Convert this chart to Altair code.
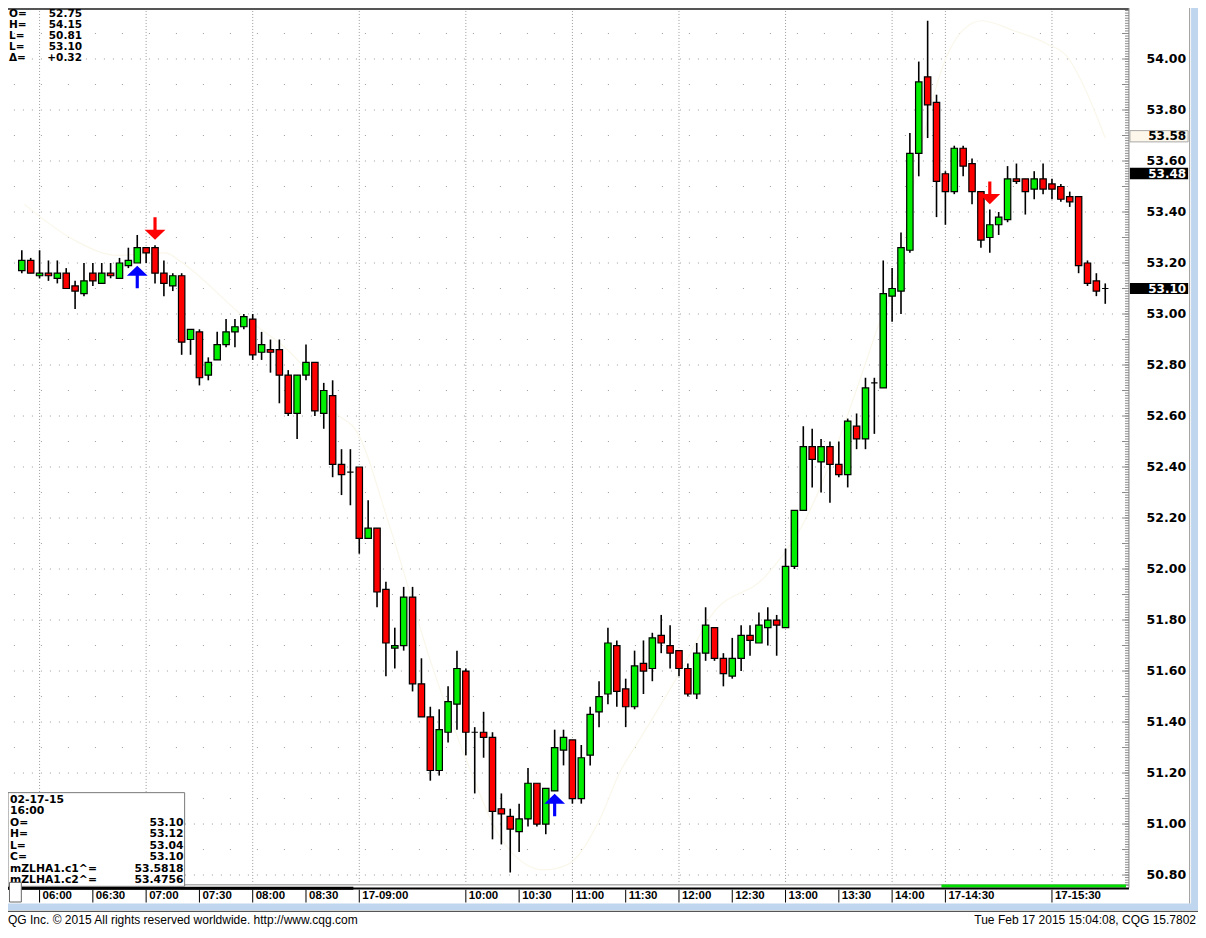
import altair as alt
import pandas as pd
import numpy as np

# ---------------- data (5-minute bars, 05:50 .. 16:00) ----------------
opens = [
    53.17, 53.21, 53.15, 53.16, 53.14, 53.16, 53.11, 53.08, 53.16, 53.12,
    53.16, 53.14, 53.19, 53.20, 53.26, 53.26, 53.16, 53.11, 53.15, 52.90,
    52.93, 52.76, 52.82, 52.88, 52.93, 52.95, 52.98, 52.85, 52.86, 52.86,
    52.76, 52.61, 52.76, 52.81, 52.61, 52.68, 52.41, 52.38, 52.40, 52.12,
    52.16, 51.92, 51.69, 51.70, 51.89, 51.55, 51.42, 51.21, 51.36, 51.47,
    51.60, 51.36, 51.36, 51.34, 51.06, 51.03, 50.97, 51.02, 51.16, 51.00,
    51.13, 51.29, 51.33, 51.10, 51.27, 51.44, 51.51, 51.70, 51.53, 51.46,
    51.63, 51.61, 51.74, 51.70, 51.68, 51.61, 51.51, 51.67, 51.77, 51.65,
    51.58, 51.65, 51.74, 51.71, 51.77, 51.80, 51.77, 52.01, 52.23, 52.48,
    52.42, 52.48, 52.41, 52.37, 52.56, 52.51, 52.73, 52.71, 53.07, 53.09,
    53.25, 53.63, 53.93, 53.83, 53.55, 53.48, 53.65, 53.59, 53.48, 53.30,
    53.35, 53.37, 53.53, 53.53, 53.49, 53.53, 53.51, 53.50, 53.46, 53.46,
    53.20, 53.13, 53.10]
highs = [
    53.25, 53.22, 53.25, 53.21, 53.21, 53.18, 53.13, 53.20, 53.20, 53.20,
    53.20, 53.22, 53.26, 53.31, 53.26, 53.27, 53.21, 53.16, 53.16, 52.94,
    52.94, 52.83, 52.93, 52.98, 52.98, 53.00, 53.00, 52.93, 52.90, 52.90,
    52.78, 52.76, 52.88, 52.81, 52.73, 52.74, 52.47, 52.47, 52.40, 52.27,
    52.16, 51.95, 51.77, 51.93, 51.93, 51.65, 51.46, 51.45, 51.54, 51.68,
    51.61, 51.38, 51.44, 51.36, 51.12, 51.06, 51.08, 51.22, 51.16, 51.14,
    51.37, 51.37, 51.33, 51.31, 51.46, 51.56, 51.77, 51.72, 51.57, 51.68,
    51.72, 51.75, 51.82, 51.78, 51.68, 51.63, 51.71, 51.85, 51.77, 51.67,
    51.73, 51.78, 51.78, 51.83, 51.85, 51.82, 52.08, 52.23, 52.56, 52.55,
    52.51, 52.50, 52.50, 52.59, 52.61, 52.75, 52.75, 53.21, 53.18, 53.32,
    53.71, 53.99, 54.15, 53.86, 53.56, 53.66, 53.66, 53.61, 53.48, 53.41,
    53.40, 53.58, 53.59, 53.53, 53.56, 53.59, 53.53, 53.51, 53.48, 53.46,
    53.21, 53.16, 53.12]
lows = [
    53.16, 53.16, 53.14, 53.13, 53.12, 53.10, 53.02, 53.07, 53.11, 53.12,
    53.14, 53.14, 53.18, 53.20, 53.20, 53.12, 53.07, 53.09, 52.84, 52.84,
    52.72, 52.74, 52.82, 52.87, 52.87, 52.94, 52.82, 52.82, 52.77, 52.65,
    52.60, 52.51, 52.74, 52.60, 52.55, 52.36, 52.29, 52.25, 52.06, 52.12,
    51.85, 51.58, 51.61, 51.68, 51.52, 51.42, 51.17, 51.19, 51.32, 51.37,
    51.27, 51.12, 51.26, 50.94, 50.92, 50.81, 50.89, 50.99, 50.99, 50.96,
    51.13, 51.23, 51.08, 51.08, 51.23, 51.38, 51.47, 51.46, 51.38, 51.45,
    51.51, 51.56, 51.67, 51.61, 51.58, 51.50, 51.49, 51.64, 51.64, 51.54,
    51.57, 51.60, 51.66, 51.71, 51.70, 51.66, 51.77, 52.00, 52.23, 52.32,
    52.30, 52.26, 52.36, 52.32, 52.47, 52.47, 52.53, 52.71, 52.97, 53.00,
    53.24, 53.54, 53.69, 53.38, 53.35, 53.47, 53.54, 53.43, 53.26, 53.24,
    53.31, 53.36, 53.51, 53.39, 53.45, 53.47, 53.45, 53.44, 53.42, 53.16,
    53.11, 53.07, 53.04]
closes = [
    53.21, 53.16, 53.16, 53.15, 53.16, 53.10, 53.09, 53.13, 53.13, 53.16,
    53.15, 53.20, 53.21, 53.26, 53.24, 53.16, 53.12, 53.15, 52.89, 52.94,
    52.75, 52.81, 52.88, 52.93, 52.95, 52.99, 52.84, 52.88, 52.85, 52.76,
    52.61, 52.76, 52.81, 52.62, 52.70, 52.41, 52.37, 52.38, 52.12, 52.16,
    51.91, 51.71, 51.70, 51.89, 51.55, 51.42, 51.21, 51.37, 51.48, 51.61,
    51.36, 51.36, 51.34, 51.05, 51.04, 50.98, 51.02, 51.16, 51.00, 51.14,
    51.30, 51.34, 51.10, 51.26, 51.43, 51.50, 51.71, 51.52, 51.46, 51.62,
    51.60, 51.73, 51.71, 51.67, 51.61, 51.51, 51.67, 51.78, 51.65, 51.59,
    51.65, 51.74, 51.72, 51.78, 51.80, 51.78, 52.01, 52.23, 52.48, 52.43,
    52.48, 52.41, 52.37, 52.58, 52.51, 52.71, 52.73, 53.08, 53.10, 53.26,
    53.63, 53.91, 53.82, 53.52, 53.48, 53.65, 53.58, 53.48, 53.29, 53.35,
    53.38, 53.53, 53.52, 53.48, 53.53, 53.49, 53.49, 53.45, 53.44, 53.19,
    53.12, 53.09, 53.10]
assert len(opens) == len(highs) == len(lows) == len(closes) == 123

time_label_bars = [2, 8, 14, 20, 26, 32, 38, 50, 56, 62, 68, 74, 80, 86, 92, 98, 104, 116]
time_labels = ["06:00", "06:30", "07:00", "07:30", "08:00", "08:30", "17-09:00", "10:00",
               "10:30", "11:00", "11:30", "12:00", "12:30", "13:00", "13:30", "14:00",
               "17-14:30", "17-15:30"]
grid_bars = [2, 14, 26, 38, 50, 62, 74, 86, 98, 104, 116]
price_labels = [50.8, 51.0, 51.2, 51.4, 51.6, 51.8, 52.0, 52.2, 52.4, 52.6, 52.8,
                53.0, 53.2, 53.4, 53.6, 53.8, 54.0]
minor_grid = [50.9, 51.1, 51.3, 51.5, 51.7, 51.9, 52.1, 52.3, 52.5, 52.7, 52.9,
              53.1, 53.3, 53.5, 53.7, 53.9, 54.1]

curve_bars = [0.3, 5.9, 10.7, 16.2, 17.7, 24.3, 31.8, 35.4, 37.7, 41.4, 46.2, 50.3, 54.0,
              58.8, 61.4, 65.1, 67.3, 69.9, 74.2, 77.7, 83.7, 87.7, 96.2, 99.2, 99.9,
              103.7, 107.0, 108.1, 111.8, 115.4, 117.7, 119.9, 122.0]
curve_prices = [53.43, 53.29, 53.23, 53.24, 53.21, 53.01, 52.79, 52.61, 52.54, 52.17, 51.62,
                51.23, 50.94, 50.82, 50.84, 51.02, 51.20, 51.35, 51.60, 51.82, 51.97, 52.16,
                52.93, 53.25, 53.40, 53.97, 54.14, 54.15, 54.11, 54.06, 54.01, 53.87, 53.69]

arrow_bars = [13, 15, 60, 109]
arrow_tips = [53.19, 53.29, 51.12, 53.43]
arrow_tails = [53.10, 53.38, 51.03, 53.52]
arrow_dirs = ["up", "down", "up", "down"]

top_info_labels = ["O=", "H=", "L=", "L=", "\u0394="]
top_info_values = ["52.75", "54.15", "50.81", "53.10", "+0.32"]
box_labels = ["02-17-15", "16:00", "O=", "H=", "L=", "C=", "mZLHA1.c1^=", "mZLHA1.c2^="]
box_values = ["", "", "53.10", "53.12", "53.04", "53.10", "53.5818", "53.4756"]
study_labels = ["53.58", "53.48"]

# ---------------- layout helpers (reference pixel -> chart pixel) ----------------
W, H = 1190, 920
SX = W / 1206.0
SY = H / 938.0


def px(X):
    return round(X * SX, 2)


def py(Y):
    return round(Y * SY, 2)


XS = alt.Scale(domain=[0, 122], range=[px(14), px(1112)], nice=False, zero=False)
YS = alt.Scale(domain=[50.8, 54.0], range=[py(884), py(52)], nice=False, zero=False)
ONE = pd.DataFrame({"k": [0]})

FONT_INFO = "DejaVu Sans"
FONT_AX = "Liberation Sans"


def hline(X1, X2, Y, color, w=1.0, dash=None):
    kw = dict(color=color, strokeWidth=w)
    if dash:
        kw["strokeDash"] = dash
    return alt.Chart(ONE).mark_rule(**kw).encode(
        x=alt.value(px(X1)), x2=alt.value(px(X2)), y=alt.value(py(Y)))


def vline(X, Y1, Y2, color, w=1.0):
    return alt.Chart(ONE).mark_rule(color=color, strokeWidth=w).encode(
        x=alt.value(px(X)), y=alt.value(py(Y1)), y2=alt.value(py(Y2)))


def box(X1, X2, Y1, Y2, fill, stroke=None, sw=1.0):
    kw = dict(fill=fill)
    if stroke:
        kw["stroke"] = stroke
        kw["strokeWidth"] = sw
    return alt.Chart(ONE).mark_rect(**kw).encode(
        x=alt.value(px(X1)), x2=alt.value(px(X2)), y=alt.value(py(Y1)), y2=alt.value(py(Y2)))


def label(s, X, Y, align="left", size=11, weight="bold", font=FONT_INFO, color="black"):
    return alt.Chart(ONE).mark_text(
        text=s, align=align, baseline="middle", fontSize=size, fontWeight=weight,
        font=font, color=color).encode(x=alt.value(px(X)), y=alt.value(py(Y)))


layers = []

# ---------------- grid ----------------
layers.append(alt.Chart(pd.DataFrame({"p": price_labels})).mark_rule(
    color="#9c9c9c", strokeWidth=1, strokeDash=[1, 8]).encode(
    y=alt.Y("p:Q", scale=YS, axis=None), x=alt.value(px(6)), x2=alt.value(px(1128))))
layers.append(alt.Chart(pd.DataFrame({"p": minor_grid})).mark_rule(
    color="#9c9c9c", strokeWidth=1, strokeDash=[1, 26]).encode(
    y=alt.Y("p:Q", scale=YS, axis=None), x=alt.value(px(6)), x2=alt.value(px(1128))))
layers.append(alt.Chart(pd.DataFrame({"b": grid_bars})).mark_rule(
    color="#9c9c9c", strokeWidth=1, strokeDash=[1, 2]).encode(
    x=alt.X("b:Q", scale=XS, axis=None), y=alt.value(py(3)), y2=alt.value(py(893))))

# faint study curve
layers.append(alt.Chart(pd.DataFrame({"b": curve_bars, "p": curve_prices})).mark_line(
    color="#faf7ea", strokeWidth=1.2, interpolate="monotone").encode(
    x=alt.X("b:Q", scale=XS, axis=None), y=alt.Y("p:Q", scale=YS, axis=None)))

# ---------------- candles ----------------
df = pd.DataFrame({"i": np.arange(len(opens)), "o": opens, "h": highs, "l": lows, "c": closes})
df["dir"] = np.where(df["c"] >= df["o"], "up", "down")
df["x1"] = df["i"] - 0.36
df["x2"] = df["i"] + 0.36

layers.append(alt.Chart(df).mark_rule(color="black", strokeWidth=1.6).encode(
    x=alt.X("i:Q", scale=XS, axis=None),
    y=alt.Y("l:Q", scale=YS, axis=None), y2="h:Q"))
layers.append(alt.Chart(df).mark_rect(stroke="black", strokeWidth=1.2).encode(
    x=alt.X("x1:Q", scale=XS, axis=None), x2="x2:Q",
    y=alt.Y("o:Q", scale=YS, axis=None), y2="c:Q",
    fill=alt.Fill("dir:N", scale=alt.Scale(domain=["up", "down"], range=["#00ee00", "#ff0000"]),
                  legend=None)))

# ---------------- arrows ----------------
adf = pd.DataFrame({"b": arrow_bars, "tip": arrow_tips, "tail": arrow_tails, "dir": arrow_dirs})
adf["mid"] = (adf["tip"] + adf["tail"]) / 2
UP = "M0,-1 L0.92,-0.11 L0.14,-0.11 L0.14,1 L-0.14,1 L-0.14,-0.11 L-0.92,-0.11 Z"
DOWN = "M0,1 L0.92,0.11 L0.14,0.11 L0.14,-1 L-0.14,-1 L-0.14,0.11 L-0.92,0.11 Z"
ar = (2 * 11.5 * SY) ** 2
layers.append(alt.Chart(adf[adf["dir"] == "up"]).mark_point(
    shape=UP, filled=True, size=ar, color="#0000ff", opacity=1, strokeWidth=0).encode(
    x=alt.X("b:Q", scale=XS, axis=None), y=alt.Y("mid:Q", scale=YS, axis=None)))
layers.append(alt.Chart(adf[adf["dir"] == "down"]).mark_point(
    shape=DOWN, filled=True, size=ar, color="#ff0000", opacity=1, strokeWidth=0).encode(
    x=alt.X("b:Q", scale=XS, axis=None), y=alt.Y("mid:Q", scale=YS, axis=None)))

# ---------------- frame ----------------
layers.append(hline(0, 1136, 1, "#555555", 2))
layers.append(vline(1136, 0, 897, "#808080", 1))
layers.append(hline(0, 1136, 894, "#8a8a8a", 1))

# right axis ticks
tick_minor = pd.DataFrame({"p": np.round(np.arange(50.76, 54.195, 0.01), 2)})
layers.append(alt.Chart(tick_minor).mark_rule(color="#8a8a8a", strokeWidth=1).encode(
    y=alt.Y("p:Q", scale=YS, axis=None), x=alt.value(px(1132)), x2=alt.value(px(1136))))
layers.append(alt.Chart(pd.DataFrame({"p": price_labels + minor_grid})).mark_rule(
    color="#8a8a8a", strokeWidth=1).encode(
    y=alt.Y("p:Q", scale=YS, axis=None), x=alt.value(px(1129)), x2=alt.value(px(1136))))

# right labels
layers.append(alt.Chart(pd.DataFrame({"p": price_labels,
                                      "t": [f"{v:.2f}" for v in price_labels]})).mark_text(
    align="right", baseline="middle", font=FONT_INFO, fontWeight="bold", fontSize=12.5,
    color="black").encode(
    y=alt.Y("p:Q", scale=YS, axis=None), x=alt.value(px(1194)), text="t:N"))

# study value boxes
layers.append(box(1137, 1196, 125, 136.5, "#fdf6ea", "#a8a8a8", 1))
layers.append(label(study_labels[0], 1194, 131, align="right", size=12))
layers.append(box(1137, 1196, 163, 174.5, "black"))
layers.append(label(study_labels[1], 1194, 169, align="right", size=12, color="white"))

# last price box
last = pd.DataFrame({"p": [closes[-1]], "t": [f"{closes[-1]:.2f}"]})
last["p1"] = last["p"] + 0.022
last["p2"] = last["p"] - 0.022
layers.append(alt.Chart(last).mark_rect(fill="black").encode(
    y=alt.Y("p1:Q", scale=YS, axis=None), y2="p2:Q",
    x=alt.value(px(1137)), x2=alt.value(px(1196))))
layers.append(alt.Chart(last).mark_text(
    align="right", baseline="middle", font=FONT_INFO, fontWeight="bold", fontSize=12,
    color="white").encode(
    y=alt.Y("p:Q", scale=YS, axis=None), x=alt.value(px(1194)), text="t:N"))

# ---------------- bottom time axis ----------------
layers.append(hline(946, 1133, 895.3, "#00e000", 3))
layers.append(hline(0, 1136, 897.8, "black", 2))
layers.append(hline(0, 350, 897.5, "black", 3))
tdf = pd.DataFrame({"b": time_label_bars, "t": time_labels})
layers.append(alt.Chart(tdf).mark_rule(color="black", strokeWidth=1).encode(
    x=alt.X("b:Q", scale=XS, axis=None), y=alt.value(py(899)), y2=alt.value(py(912))))
layers.append(alt.Chart(tdf).mark_text(
    align="left", baseline="middle", font=FONT_AX, fontWeight="bold", fontSize=11.5,
    dx=3, color="black").encode(
    x=alt.X("b:Q", scale=XS, axis=None), y=alt.value(py(905.5)), text="t:N"))

# window chrome
layers.append(box(0, 1206, 913, 920, "#bfd6ee"))
layers.append(hline(0, 1206, 921, "#333333", 1))
layers.append(box(1199, 1206, 0, 920, "#bfd6ee"))
layers.append(vline(1197.5, 0, 913, "#9a9a9a", 1))

# ---------------- info boxes ----------------
top_rows = [6.2, 17.5, 28.8, 40.1, 51.4]
for lab, val, yy in zip(top_info_labels, top_info_values, top_rows):
    layers.append(label(lab, 1, yy, size=10.5))
    layers.append(label(val, 75, yy, align="right", size=10.5))

layers.append(box(0, 179, 800, 895.5, "white", "#7a7a7a", 1))
box_rows = [807.5, 819.2, 830.9, 842.6, 854.3, 866.0, 877.7, 889.4]
for lab, val, yy in zip(box_labels, box_values, box_rows):
    layers.append(label(lab, 2, yy, size=10.8))
    if val:
        layers.append(label(val, 178, yy, align="right", size=10.8))
layers.append(box(1.5, 13.5, 891.5, 911.5, "white", "#666666", 1))

# ---------------- footer ----------------
layers.append(label("QG Inc. \u00a9 2015 All rights reserved worldwide. http://www.cqg.com",
                    0, 930, size=12, weight="normal", font=FONT_AX))
layers.append(label("Tue Feb 17 2015 15:04:08, CQG 15.7802", 1204, 930, align="right",
                    size=12, weight="normal", font=FONT_AX))

chart = alt.layer(*layers).properties(
    width=W, height=H, padding=0, background="white",
    autosize=alt.AutoSizeParams(type="none"),
).configure_view(strokeWidth=0)

chart.save("out.html", embed_options={"renderer": "svg", "actions": False})
